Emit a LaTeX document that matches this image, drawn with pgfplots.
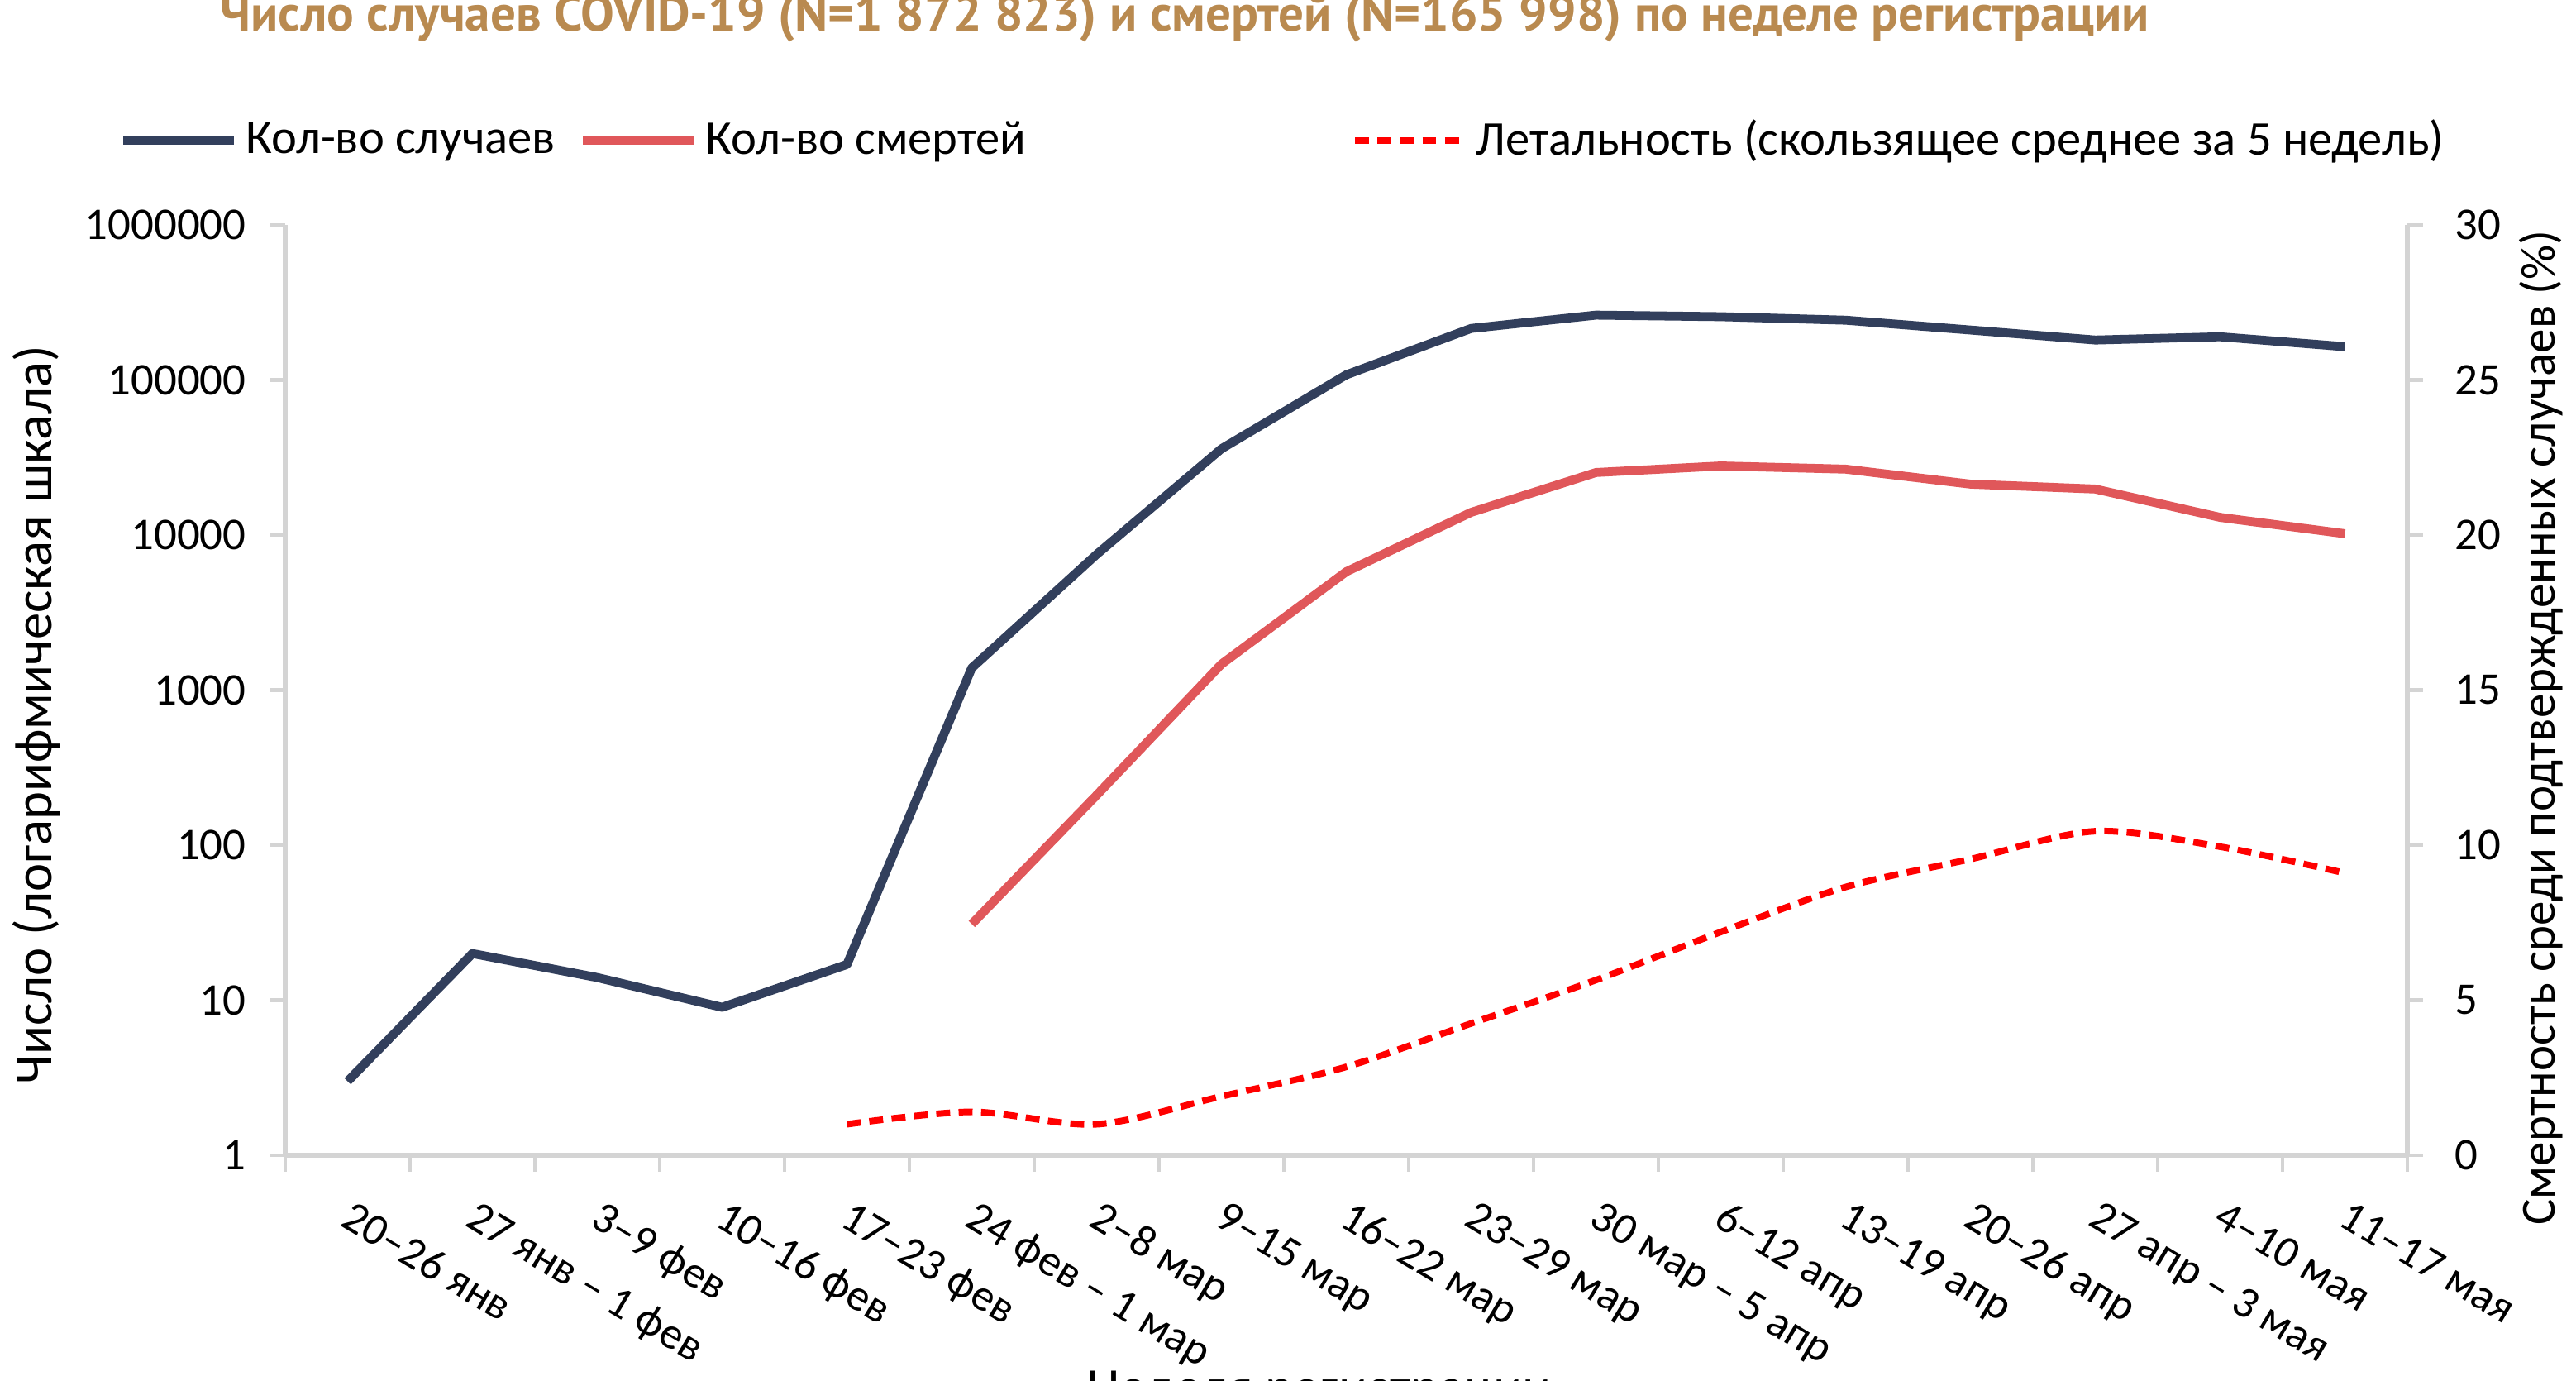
\documentclass[border=0pt]{standalone}
\usepackage{pgfplots}
\pgfplotsset{compat=1.18}
\usepackage{pgfplotstable}
\usepackage{fontspec}
\setmainfont{Carlito}
\newfontfamily\titlefont{PT Sans}
\definecolor{casecol}{HTML}{323F5C}
\definecolor{deathcol}{HTML}{E0575A}
\definecolor{letcol}{HTML}{FF0000}
\definecolor{axcol}{HTML}{D4D4D4}
\definecolor{titlecol}{HTML}{B98A50}

\pgfplotstableread{
x cases
0 3
1 20
2 14
3 9
4 17
5 1390
6 7500
7 36000
8 108000
9 215000
10 262000
11 256000
12 243000
13 210000
14 181000
15 190000
16 164000
}\casetable

\pgfplotstableread{
x deaths
5 31
6 210
7 1470
8 5800
9 14000
10 25300
11 27900
12 26600
13 21300
14 19800
15 13000
16 10200
}\deathtable

\pgfplotstableread{
x let
4 1.0
5 1.4
6 1.0
7 1.9
8 2.85
9 4.25
10 5.65
11 7.2
12 8.65
13 9.55
14 10.45
15 9.95
16 9.1
}\lettable

\begin{document}
\begin{tikzpicture}
\pgfplotsset{
  common/.style={
    at={(0,0)}, anchor=south west,
    scale only axis, width=19.2525cm, height=8.4375cm,
    xmin=-0.5, xmax=16.5,
    font=\fontsize{11.7}{14}\selectfont,
    tick align=outside,
    axis line style={axcol, line width=1.1pt},
    tick style={axcol, line width=0.9pt},
    major tick length=0.14cm, minor tick length=0.15cm,
    clip=false,
    legend style={draw=none, fill=none, inner sep=0pt, anchor=west,
      font=\fontsize{12.5}{15}\selectfont, legend cell align=left,
      /tikz/every even column/.append style={column sep=0.14cm}},
    legend image code/.code={\draw[##1] (0cm,0cm) -- (1.0cm,0cm);},
  }
}
\begin{axis}[common,
  ymode=log, ymin=1, ymax=1000000,
  axis y line*=left, axis x line*=bottom,
  xtick={0,...,16},
  xticklabels={20–26 янв, 27 янв – 1 фев, 3–9 фев, 10–16 фев, 17–23 фев, 24 фев – 1 мар, 2–8 мар, 9–15 мар, 16–22 мар, 23–29 мар, 30 мар – 5 апр, 6–12 апр, 13–19 апр, 20–26 апр, 27 апр – 3 мая, 4–10 мая, 11–17 мая},
  minor xtick={-0.5,0.5,...,16.5},
  major x tick style={draw=none},
  xticklabel style={yshift=-0.25cm, xshift=0.06cm, rotate=-31, anchor=north west, inner sep=0pt, font=\fontsize{11.5}{14}\selectfont},
  ytick={1,10,100,1000,10000,100000,1000000},
  yticklabels={1,10,100,1000,10000,100000,1000000},
  yminorticks=false,
  yticklabel style={anchor=east, inner sep=0pt, xshift=-0.21cm},
  ylabel={Число (логарифмическая шкала)},
  every axis y label/.style={at={(axis description cs:-0.1173,0.473)}, rotate=90, anchor=center, font=\fontsize{13.8}{16}\selectfont},
  xlabel={Неделя регистрации},
  every axis x label/.style={at={(axis description cs:0.487,-0.2169)}, anchor=north, font=\fontsize{13.8}{16}\selectfont},
  legend columns=2,
  legend style={at={(axis description cs:-0.0787,1.0906)}},
]
\addplot[casecol, line width=2.3pt, line join=round] table[x=x, y=cases] {\casetable};
\addlegendentry{Кол-во случаев}
\addplot[deathcol, line width=2.3pt, line join=round] table[x=x, y=deaths] {\deathtable};
\addlegendentry{Кол-во смертей}
\end{axis}

\begin{axis}[common,
  ymin=0, ymax=30,
  axis y line*=right, axis x line=none,
  ytick={0,5,10,15,20,25,30},
  yticklabels={0,5,10,15,20,25,30},
  yticklabel style={anchor=west, inner sep=0pt, xshift=0.285cm},
  ylabel={Смертность среди подтвержденных случаев (\%)},
  every axis y label/.style={at={(axis description cs:1.0631,0.4596)}, rotate=90, anchor=center, font=\fontsize{12.6}{15}\selectfont},
  legend columns=1,
  legend style={at={(axis description cs:0.5022,1.0906)}},
]
\addplot[letcol, line width=1.7pt, dash pattern=on 3.6pt off 2.2pt, smooth, tension=0.5] table[x=x, y=let] {\lettable};
\addlegendentry{Летальность (скользящее среднее за 5 недель)}
\end{axis}

\node[anchor=base, text=titlecol] at (8.16,10.2) {\resizebox{17.5cm}{!}{\titlefont\bfseries Число случаев COVID-19 (N=1 872 823) и смертей (N=165 998) по неделе регистрации}};

\pgfresetboundingbox
\path[use as bounding box] (-2.5875,-2.04) rectangle (20.7825,10.4775);
\end{tikzpicture}
\end{document}
